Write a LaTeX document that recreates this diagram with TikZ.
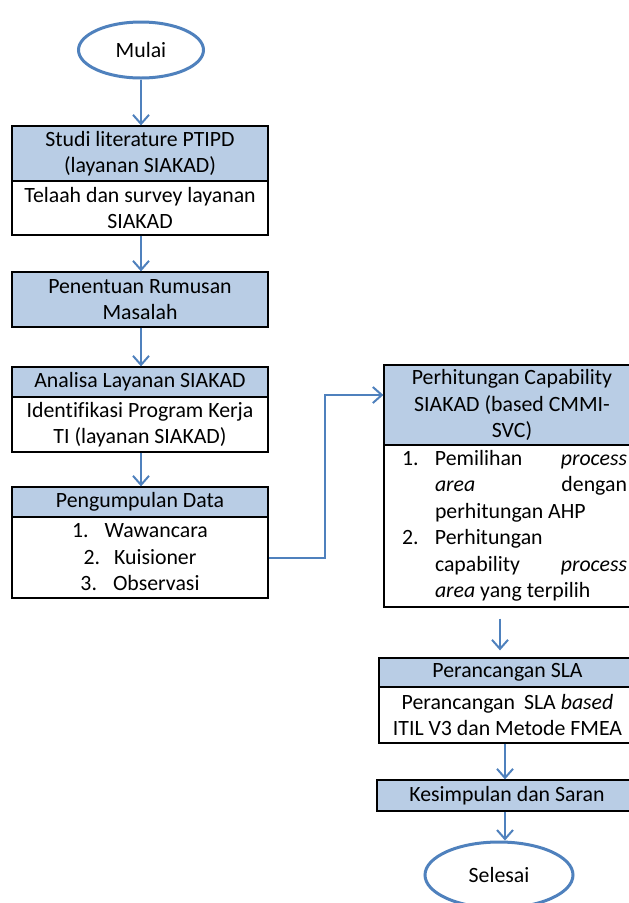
\documentclass[tikz,border=0pt]{standalone}
\usepackage{fontspec}
\setmainfont[Ligatures=NoCommon]{Carlito}
\usetikzlibrary{arrows.meta,shapes.geometric}
\definecolor{hdrfill}{HTML}{B9CDE5}
\definecolor{arrblue}{HTML}{4F81BD}
\begin{document}
\begin{tikzpicture}[x=1pt,y=-1pt,
  every node/.style={font=\fontsize{21.8}{26.5}\selectfont, inner sep=0pt, text=black},
  hdr/.style={rectangle, draw=black, line width=1.3pt, fill=hdrfill, align=center},
  bdy/.style={rectangle, draw=black, line width=1.3pt, fill=white, align=center},
  oval/.style={ellipse, draw=arrblue, line width=3pt, fill=white},
  arr/.style={draw=arrblue, line width=2pt, -{Straight Barb[length=9pt,width=16pt]}}
]
\useasboundingbox (0,0) rectangle (629,903);
\clip (0,0) rectangle (629,903);
\fill[white] (0,0) rectangle (629,903);

% start
\node[oval, minimum width=125pt, minimum height=56pt] (mulai) at (141,50) {Mulai};

% box 1
\node[hdr, minimum width=256pt, minimum height=55pt] (h1) at (140,153.5) {Studi literature PTIPD\\(layanan SIAKAD)};
\node[bdy, minimum width=256pt, minimum height=54pt] (b1) at (140,208) {Telaah dan survey layanan\\SIAKAD};

% box 2
\node[hdr, minimum width=256pt, minimum height=55pt] (h2) at (140,299.5) {Penentuan Rumusan\\Masalah};

% box 3
\node[hdr, minimum width=256pt, minimum height=30pt] (h3) at (140,382) {Analisa Layanan SIAKAD};
\node[bdy, minimum width=256pt, minimum height=55pt] (b3) at (140,424.5) {Identifikasi Program Kerja\\TI (layanan SIAKAD)};

% box 4
\node[hdr, minimum width=256pt, minimum height=30pt] (h4) at (140,502) {Pengumpulan Data};
\node[bdy, minimum width=256pt, minimum height=81pt] (b4) at (140,557.5) {1.\hspace{16pt}Wawancara\\2.\hspace{14pt}Kuisioner\\3.\hspace{16pt}Observasi};

% box 5
\node[hdr, minimum width=256pt, minimum height=80pt] (h5) at (512,405) {Perhitungan Capability\\SIAKAD (based CMMI-\\SVC)};
\node[bdy, minimum width=256pt, minimum height=162pt] (b5) at (512,526) {\hspace*{18pt}\parbox{225pt}{%
\makebox[33pt][l]{1.}Pemilihan\hfill\textit{process}\\
\hspace*{33pt}\textit{area}\hfill dengan\\
\hspace*{33pt}perhitungan AHP\\
\makebox[33pt][l]{2.}Perhitungan\\
\hspace*{33pt}capability\hfill\textit{process}\\
\hspace*{33pt}\textit{area} yang terpilih}\hspace*{13pt}};

% box 6
\node[hdr, minimum width=257pt, minimum height=29pt] (h6) at (507.5,672.5) {Perancangan SLA};
\node[bdy, minimum width=257pt, minimum height=56pt] (b6) at (507.5,715) {Perancangan\hspace{9pt}SLA \textit{based}\\ITIL V3 dan Metode FMEA};

% box 7
\node[hdr, minimum width=260pt, minimum height=31pt] (h7) at (507,795.5) {Kesimpulan dan Saran};

% end
\node[oval, minimum width=148pt, minimum height=66pt] (selesai) at (499,875) {Selesai};

% connectors
\coordinate (bend) at (325,395);
\draw[arr] (mulai.south) -- (mulai.south |- h1.north);
\draw[arr] (b1.south -| mulai.south) -- (h2.north -| mulai.south);
\draw[arr] (h2.south -| mulai.south) -- (h3.north -| mulai.south);
\draw[arr] (b3.south -| mulai.south) -- (h4.north -| mulai.south);
\draw[arr] (b4.east) -| (bend) -- (h5.west |- bend);
\draw[arr, shorten <=11pt, shorten >=7pt] (b5.south -| 500,0) -- (h6.north -| 500,0);
\draw[arr] (b6.south -| 505,0) -- (h7.north -| 505,0);
\draw[arr] (h7.south -| 505,0) -- (selesai.north -| 505,0);
\end{tikzpicture}
\end{document}
